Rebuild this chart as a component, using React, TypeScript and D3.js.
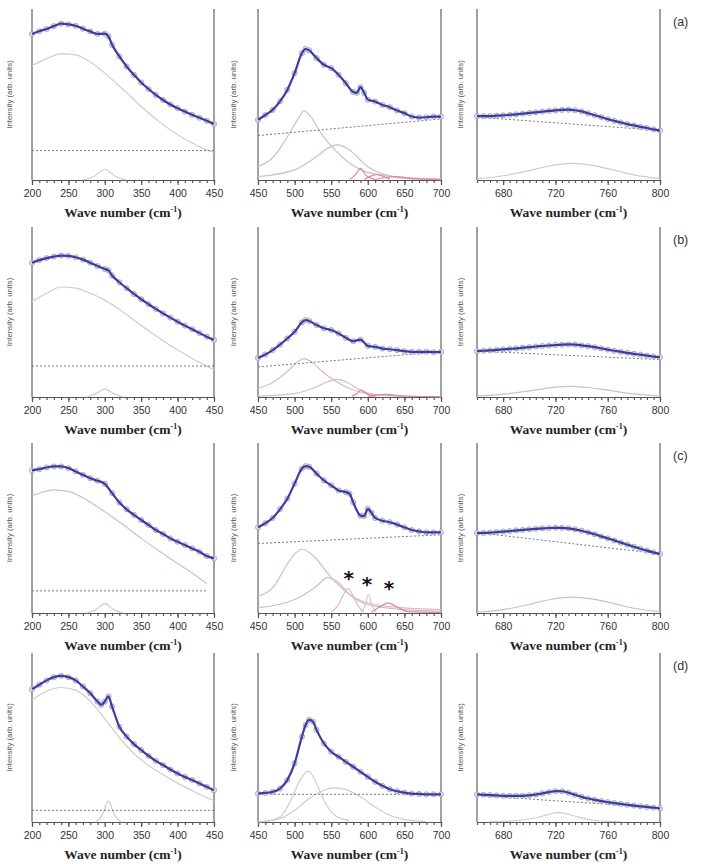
import React, { useEffect, useRef } from "react";
import * as d3 from "d3";

type Pt = [number, number];

// x ranges and ticks of the three columns
const colDomains: [number, number][] = [[200, 450], [450, 700], [660, 800]];
const majorTicks = [
  [200, 250, 300, 350, 400, 450],
  [450, 500, 550, 600, 650, 700],
  [680, 720, 760, 800],
];
const minorStep = [10, 10, 5];
const rowLetters = ["(a)", "(b)", "(c)", "(d)"];

// intensities are read as % of panel height (0 = bottom axis)

// ---- row (a) ----
const a1Spectrum: Pt[] = [[200,85.4],[210,87],[220,88.3],[230,90],[240,91.4],[250,91],[260,90.2],[270,88.5],[280,86.9],[290,85.4],[300,85.6],[305,84],[310,79.1],[320,72.3],[330,66.4],[340,61.5],[350,57],[360,53.2],[370,49.8],[380,46.8],[390,44.2],[400,42],[410,40],[420,38.1],[430,36.4],[440,34.6],[450,32.8]];
const a1Broad: Pt[] = [[200,66.8],[220,71],[240,73.8],[260,73.2],[280,69],[300,62.5],[325,53],[350,43],[375,34],[400,26.4],[425,20.5],[450,16]];
const a1Peak: Pt[] = [[270,0],[285,2],[300,6.3],[315,2],[330,0]];
const a1Base: Pt[] = [[200,17.2],[450,17.2]];

const a2Spectrum: Pt[] = [[450,35.2],[460,38],[470,41],[480,46],[490,52.7],[500,62.5],[510,74.2],[515,76.6],[520,75.8],[530,71.3],[540,67.4],[550,65.4],[560,61.5],[570,56.6],[580,51.5],[585,51],[590,54.3],[595,51],[600,47],[610,45.9],[620,43.9],[630,42.6],[640,40.6],[650,39.1],[660,37.1],[670,36.5],[680,36.7],[690,37.1],[700,37.1]];
const a2Band1: Pt[] = [[450,7.8],[470,13],[490,25],[505,36],[513,40.4],[522,37],[535,28],[550,20],[575,10],[600,4.5],[650,1.5],[700,0.5]];
const a2Band2: Pt[] = [[450,2],[500,5.9],[530,13.7],[545,18.5],[558,20.5],[575,17.6],[600,7.8],[625,3],[650,1],[700,0.3]];
const a2Band3: Pt[] = [[575,0.3],[583,3],[590,6.8],[597,3],[610,0.3]];
const a2Band4: Pt[] = [[595,0.3],[612,3.2],[630,0.5]];
const a2Band5: Pt[] = [[610,0.3],[635,2],[660,0.8],[700,0.2]];
const a2Base: Pt[] = [[450,26],[700,35.7]];

const a3Spectrum: Pt[] = [[660,37.3],[665,37.3],[670,37.4],[675,37.6],[680,37.8],[685,38.1],[690,38.4],[695,38.8],[700,39.2],[705,39.6],[710,40],[715,40.4],[720,40.7],[725,41],[730,41.1],[735,40.8],[740,40.1],[745,39],[750,37.9],[755,36.8],[760,35.6],[765,34.6],[770,33.6],[775,32.7],[780,31.9],[785,31.1],[790,30.4],[795,29.6],[800,28.9]];
const a3Band: Pt[] = [[660,0.8],[680,2.5],[700,5.5],[715,8.2],[732,9.7],[750,8.3],[765,5.8],[780,3],[800,0.8]];
const a3Base: Pt[] = [[660,36.8],[800,29]];

// ---- row (b) ----
const b1Spectrum: Pt[] = [[200,79],[210,80.5],[220,81.7],[230,82.6],[240,83.2],[250,83],[260,82.2],[270,80.8],[280,79],[290,77],[300,75.3],[305,74.5],[310,71.5],[320,67.5],[330,64],[340,60.6],[350,57.5],[360,54.6],[370,51.8],[380,49.2],[390,46.7],[400,44.3],[410,42],[420,39.8],[430,37.6],[440,35.5],[450,33.6]];
const b1Broad: Pt[] = [[200,56],[220,61],[240,64.7],[260,64],[280,61],[300,57],[325,50],[350,42],[375,34.5],[400,27.6],[425,21.5],[450,16]];
const b1Peak: Pt[] = [[275,0],[288,2],[300,4.8],[312,2],[325,0]];
const b1Base: Pt[] = [[200,18.2],[450,18.2]];

const b2Spectrum: Pt[] = [[450,23],[460,25],[470,27.6],[480,30.8],[490,34.4],[500,38.4],[510,43.9],[515,45.3],[520,44.7],[530,42.3],[540,40.4],[550,39.4],[560,37.4],[570,34.8],[580,32.8],[590,33.8],[600,30.1],[610,29.5],[620,28.5],[630,28.1],[640,27.6],[650,27],[660,26.6],[670,26.6],[680,26.6],[690,26.4],[700,26.6]];
const b2Band1: Pt[] = [[450,4.9],[470,8.5],[490,15],[505,21],[513,22.6],[522,21],[535,16],[550,11],[575,5],[600,2],[650,0.6],[700,0.2]];
const b2Band2: Pt[] = [[450,0.5],[500,2],[530,6],[545,9],[557,10.4],[570,9],[590,4],[610,1.4],[650,0.3]];
const b2Band3: Pt[] = [[578,0.3],[585,2],[591,4],[598,2],[610,0.3]];
const b2Band4: Pt[] = [[600,0.2],[625,1.5],[650,0.6],[700,0.2]];
const b2Base: Pt[] = [[450,17.7],[700,26.6]];

const b3Spectrum: Pt[] = [[660,27],[665,27.2],[670,27.4],[675,27.7],[680,28],[685,28.3],[690,28.6],[695,29],[700,29.3],[705,29.7],[710,30],[715,30.3],[720,30.6],[725,30.8],[730,30.9],[735,30.8],[740,30.4],[745,29.9],[750,29.3],[755,28.6],[760,27.9],[765,27.2],[770,26.6],[775,26],[780,25.4],[785,24.9],[790,24.3],[795,23.8],[800,23.3]];
const b3Band: Pt[] = [[660,0.5],[680,1.7],[700,3.6],[715,5.4],[730,6.3],[745,5.6],[760,4],[780,1.8],[800,0.5]];
const b3Base: Pt[] = [[660,27],[800,22]];

// ---- row (c) ----
const c1Spectrum: Pt[] = [[200,83.9],[210,84.6],[220,85.6],[230,86.2],[240,86.2],[250,85.2],[260,83.3],[270,81.3],[280,79.3],[290,77.8],[300,76],[310,70.5],[320,65],[330,61],[340,57.7],[350,54.7],[360,51.8],[370,48.8],[380,46.5],[390,43.9],[400,41.9],[410,40],[420,38],[430,36],[440,33.5],[450,32.1]];
const c1Broad: Pt[] = [[200,68.9],[215,71.2],[230,72.4],[250,71.5],[275,66.5],[300,59.6],[325,52],[350,43.9],[375,36.3],[400,29.1],[420,23.5],[440,17.3]];
const c1Peak: Pt[] = [[275,0],[288,2],[300,5.5],[312,2],[325,0]];
const c1Base: Pt[] = [[200,13],[440,13]];

const c2Spectrum: Pt[] = [[450,50.4],[460,52.8],[470,55.9],[480,61],[490,67.2],[500,76.1],[510,85],[515,86.4],[520,86],[530,82],[540,78],[550,75.1],[560,72.1],[570,71.1],[575,70.2],[580,65.2],[590,57.3],[595,57],[600,61.3],[605,59],[610,55.9],[620,54.3],[630,53.4],[640,52],[650,50.4],[660,48.8],[670,48],[680,47.4],[690,47.4],[700,47.4]];
const c2Band1: Pt[] = [[450,9.9],[470,14.8],[490,28.7],[500,34.6],[510,37.5],[520,35.6],[530,31.6],[550,20.8],[575,10.9],[600,5.9],[650,3],[700,2]];
const c2Band2: Pt[] = [[450,3],[500,7.9],[530,15.8],[545,20.8],[560,17.8],[575,10.9],[600,4.9],[650,2],[700,1]];
const c2Band3: Pt[] = [[550,0.5],[560,5],[567,11],[573,14.4],[580,10],[587,4],[595,0.5]];
const c2Band4: Pt[] = [[590,0.5],[596,4],[601,10.9],[606,4],[612,0.5]];
const c2Band5: Pt[] = [[605,0.5],[618,4],[628,5.9],[638,4],[655,0.8],[700,0.3]];
const c2Base: Pt[] = [[450,40.9],[700,46]];
const c2Stars: Pt[] = [[574,24],[599,20.5],[629,18.3]];

const c3Spectrum: Pt[] = [[660,47],[665,47.1],[670,47.3],[675,47.6],[680,47.9],[685,48.2],[690,48.6],[695,48.9],[700,49.2],[705,49.5],[710,49.8],[715,50],[720,50.1],[725,50.1],[730,49.8],[735,49.2],[740,48.4],[745,47.4],[750,46.3],[755,45.1],[760,43.9],[765,42.7],[770,41.4],[775,40.2],[780,39],[785,37.8],[790,36.7],[795,35.7],[800,34.8]];
const c3Band: Pt[] = [[660,0.5],[680,2],[700,5],[715,7.8],[732,9.3],[750,8],[765,5.5],[780,2.8],[800,0.8]];
const c3Base: Pt[] = [[660,47.3],[800,34.8]];

// ---- row (d) ----
const d1Spectrum: Pt[] = [[200,78.6],[210,81.2],[220,83.8],[230,85.7],[240,86.5],[250,85.7],[260,83.8],[270,80.2],[280,76.2],[290,71.3],[295,69.3],[300,71.3],[305,74.3],[310,68.3],[320,56.4],[330,50.5],[340,46.1],[350,42.6],[360,39.2],[370,36.2],[380,33.7],[390,31.1],[400,28.7],[410,26.7],[420,24.8],[430,22.8],[440,20.8],[450,18.8]];
const d1Broad: Pt[] = [[200,72.3],[220,77.4],[240,79.6],[260,78],[280,71.5],[300,61],[320,50],[340,40.5],[360,33.5],[380,28],[400,23],[425,17.5],[450,12.5]];
const d1Peak: Pt[] = [[288,0],[297,4.5],[305,12.5],[313,4.5],[322,0]];
const d1Base: Pt[] = [[200,6.9],[450,6.9]];

const d2Spectrum: Pt[] = [[450,16.8],[460,17.2],[470,17.8],[480,19.8],[490,24.8],[500,34.7],[510,50.5],[515,57.4],[520,60.4],[525,59.4],[530,54.5],[540,46.5],[550,41.6],[560,38.6],[570,35.6],[580,32.7],[590,29.7],[600,26.7],[610,23.8],[620,21.4],[630,19.4],[640,18.2],[650,17.4],[660,16.8],[670,16.6],[680,16.4],[690,16.4],[700,16.4]];
const d2Band1: Pt[] = [[460,0.5],[480,3],[495,12.9],[505,22.8],[519,30.1],[530,22.8],[540,12.9],[555,4],[575,0.8]];
const d2Band2: Pt[] = [[450,0],[480,2],[500,6.9],[520,13.9],[540,18.8],[555,20.2],[570,19.2],[590,14.9],[610,8.9],[630,4],[650,1.4],[680,0.3]];
const d2Base: Pt[] = [[450,16.4],[700,16.4]];

const d3Spectrum: Pt[] = [[660,16.3],[665,16.1],[670,15.9],[675,15.7],[680,15.5],[685,15.4],[690,15.4],[695,15.5],[700,15.8],[705,16.2],[710,16.9],[715,17.7],[720,18.3],[725,18.2],[730,17.3],[735,16.1],[740,14.9],[745,13.9],[750,13.1],[755,12.4],[760,11.8],[765,11.2],[770,10.7],[775,10.2],[780,9.7],[785,9.3],[790,8.9],[795,8.5],[800,8.1]];
const d3Band: Pt[] = [[670,0.2],[690,0.8],[705,2.5],[714,4.3],[722,5.5],[731,4.3],[742,2],[755,0.6],[770,0.2]];
const d3Base: Pt[] = [[660,15.7],[800,8.4]];

// panel layout (pixels)
const colX = [[32, 214], [258, 441], [477, 660]];
const rowY = [[9, 180], [227, 397], [443, 613], [653, 822]];
const ylabelX = [10, 234, 461];

const toneColor: Record<string, string> = { grey: "#cdcdcd", pink: "#d6bcc3", red: "#e08a96" };

type Panel = { row: number; col: number; spectrum: Pt[]; bands: [Pt[], string][]; base: Pt[]; stars?: Pt[] };

const panels: Panel[] = [
  { row: 0, col: 0, spectrum: a1Spectrum, bands: [[a1Broad, "grey"], [a1Peak, "grey"]], base: a1Base },
  { row: 0, col: 1, spectrum: a2Spectrum, bands: [[a2Band1, "pink"], [a2Band2, "pink"], [a2Band3, "red"], [a2Band4, "red"], [a2Band5, "red"]], base: a2Base },
  { row: 0, col: 2, spectrum: a3Spectrum, bands: [[a3Band, "grey"]], base: a3Base },
  { row: 1, col: 0, spectrum: b1Spectrum, bands: [[b1Broad, "grey"], [b1Peak, "grey"]], base: b1Base },
  { row: 1, col: 1, spectrum: b2Spectrum, bands: [[b2Band1, "pink"], [b2Band2, "pink"], [b2Band3, "red"], [b2Band4, "red"]], base: b2Base },
  { row: 1, col: 2, spectrum: b3Spectrum, bands: [[b3Band, "pink"]], base: b3Base },
  { row: 2, col: 0, spectrum: c1Spectrum, bands: [[c1Broad, "pink"], [c1Peak, "grey"]], base: c1Base },
  { row: 2, col: 1, spectrum: c2Spectrum, bands: [[c2Band1, "pink"], [c2Band2, "pink"], [c2Band3, "pink"], [c2Band4, "grey"], [c2Band5, "red"]], base: c2Base, stars: c2Stars },
  { row: 2, col: 2, spectrum: c3Spectrum, bands: [[c3Band, "pink"]], base: c3Base },
  { row: 3, col: 0, spectrum: d1Spectrum, bands: [[d1Broad, "grey"], [d1Peak, "grey"]], base: d1Base },
  { row: 3, col: 1, spectrum: d2Spectrum, bands: [[d2Band1, "grey"], [d2Band2, "grey"]], base: d2Base },
  { row: 3, col: 2, spectrum: d3Spectrum, bands: [[d3Band, "grey"]], base: d3Base },
];

export default function App() {
  const ref = useRef<SVGSVGElement>(null);

  useEffect(() => {
    const svg = d3.select(ref.current);
    svg.selectAll("*").remove();
    svg.append("rect").attr("width", 702).attr("height", 864).attr("fill", "#fff");

    panels.forEach((p) => {
      const [x0, x1] = colX[p.col];
      const [y0, y1] = rowY[p.row];
      const dom = colDomains[p.col];
      const x = d3.scaleLinear().domain(dom).range([x0, x1]);
      const y = d3.scaleLinear().domain([0, 100]).range([y1, y0]);
      const g = svg.append("g");

      // side lines
      [x0, x1].forEach((xx) => {
        g.append("line").attr("x1", xx).attr("x2", xx).attr("y1", y0).attr("y2", y1)
          .attr("stroke", "#6f6f6f").attr("stroke-width", 1.3);
      });

      // minor ticks
      const minor = d3.range(dom[0], dom[1] + 0.1, minorStep[p.col]);
      const minorAxis = g.append("g").attr("transform", `translate(0,${y1})`)
        .call(d3.axisBottom(x).tickValues(minor).tickSize(3).tickSizeOuter(0).tickFormat(() => ""));
      minorAxis.selectAll("path,line").attr("stroke", "#555").attr("stroke-width", 1.2);

      // major ticks + labels
      const majorAxis = g.append("g").attr("transform", `translate(0,${y1})`)
        .call(d3.axisBottom(x).tickValues(majorTicks[p.col]).tickSize(5).tickSizeOuter(0).tickPadding(5).tickFormat(d3.format("d")));
      majorAxis.select(".domain").remove();
      majorAxis.selectAll("line").attr("stroke", "#555").attr("stroke-width", 1.2);
      majorAxis.selectAll("text").attr("font-family", "Liberation Sans, Arial, sans-serif")
        .attr("font-size", 10.5).attr("fill", "#333");

      // x label
      const xl = g.append("text").attr("x", (x0 + x1) / 2).attr("y", y1 + 37)
        .attr("text-anchor", "middle").attr("font-family", "Liberation Serif, Times New Roman, serif")
        .attr("font-weight", "bold").attr("font-size", 13.5).attr("fill", "#222");
      xl.append("tspan").text("Wave number (cm");
      xl.append("tspan").attr("dy", -5).attr("font-size", 8).text("-1");
      xl.append("tspan").attr("dy", 5).text(")");

      // y label
      g.append("text").attr("transform", `translate(${ylabelX[p.col]},${(y0 + y1) / 2}) rotate(-90)`)
        .attr("text-anchor", "middle").attr("dominant-baseline", "middle")
        .attr("font-family", "Liberation Sans, Arial, sans-serif").attr("font-size", 7.8)
        .attr("fill", "#555").text("Intensity (arb. units)");

      const line = d3.line<Pt>().x((d) => x(d[0])).y((d) => y(d[1])).curve(d3.curveMonotoneX);

      // fitted bands
      p.bands.forEach(([pts, tone]) => {
        g.append("path").attr("d", line(pts)).attr("fill", "none")
          .attr("stroke", toneColor[tone]).attr("stroke-width", 1.2);
      });

      // baseline
      g.append("path").attr("d", d3.line<Pt>().x((d) => x(d[0])).y((d) => y(d[1]))(p.base))
        .attr("fill", "none").attr("stroke", "#7a7a7a").attr("stroke-width", 1).attr("stroke-dasharray", "2,2");

      // measured points
      g.selectAll("circle.pt").data(p.spectrum).join("circle").attr("class", "pt")
        .attr("cx", (d) => x(d[0])).attr("cy", (d) => y(d[1])).attr("r", 2.6)
        .attr("fill", "#dcdcec").attr("stroke", "#a0a0a8").attr("stroke-width", 0.8);

      // total fit
      g.append("path").attr("d", line(p.spectrum)).attr("fill", "none")
        .attr("stroke", "#3b3ba4").attr("stroke-width", 2.2);

      if (p.stars) {
        g.selectAll("text.star").data(p.stars).join("text").attr("class", "star")
          .attr("x", (d) => x(d[0])).attr("y", (d) => y(d[1]) + 13)
          .attr("text-anchor", "middle").attr("font-family", "DejaVu Sans, sans-serif")
          .attr("font-weight", "bold").attr("font-size", 20).attr("fill", "#111").text("*");
      }

      if (p.col === 2) {
        g.append("text").attr("x", 673).attr("y", y0 + 17)
          .attr("font-family", "Liberation Sans, Arial, sans-serif").attr("font-size", 12.5)
          .attr("fill", "#333").text(rowLetters[p.row]);
      }
    });
  }, []);

  return (
    <svg ref={ref} width={702} height={864}
      style={{ position: "absolute", left: 0, top: 0, display: "block" }} />
  );
}
